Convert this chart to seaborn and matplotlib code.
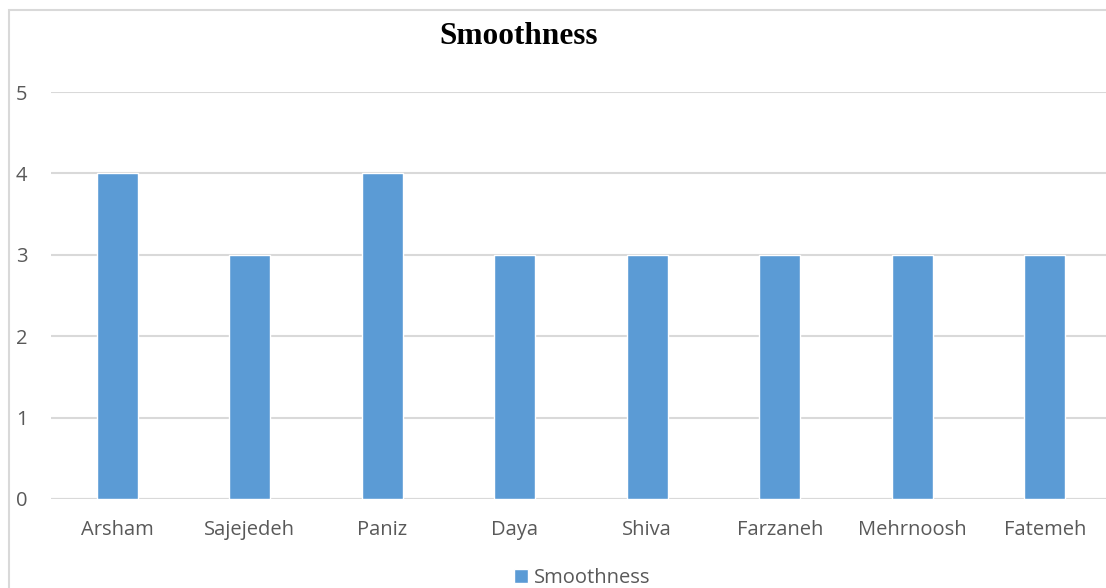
import matplotlib
matplotlib.use('Agg')
import matplotlib.pyplot as plt
import matplotlib.patches as mpatches
import seaborn as sns
import pandas as pd

# Data
names = ['Arsham', 'Sajejedeh', 'Paniz', 'Daya', 'Shiva', 'Farzaneh', 'Mehrnoosh', 'Fatemeh']
smoothness = [4, 3, 4, 3, 3, 3, 3, 3]
y_ticks = [0, 1, 2, 3, 4, 5]

bar_color = '#5b9bd5'
grid_color = '#d9d9d9'
text_color = '#595959'

sns.set_style('white')
plt.rcParams['font.family'] = ['Open Sans', 'DejaVu Sans']

W, H = 1106, 588
fig = plt.figure(figsize=(W / 100, H / 100), dpi=100)
ax = fig.add_axes([51 / W, 1 - 499 / H, (1111 - 51) / W, (499 - 92) / H])

df = pd.DataFrame({'name': names, 'value': smoothness})
sns.barplot(data=df, x='name', y='value', color=bar_color, saturation=1,
            width=0.31, ax=ax, label='Smoothness')
if ax.get_legend() is not None:
    ax.get_legend().remove()

ax.set_xlim(-0.5, len(names) - 0.5)
ax.set_ylim(0, 5)
ax.set_yticks(y_ticks)
ax.set_xlabel('')
ax.set_ylabel('')
for s in ax.spines.values():
    s.set_visible(False)
ax.yaxis.grid(True, color=grid_color, linewidth=1.5)
ax.set_axisbelow(True)
ax.axhline(0, color=grid_color, linewidth=1.5, zorder=0)
ax.tick_params(axis='x', length=0, pad=15, labelsize=14.5, labelcolor=text_color)
ax.tick_params(axis='y', length=0, pad=17, labelsize=14.5, labelcolor=text_color)

# outer chart frame (cropped on right and bottom)
fig.patches.append(mpatches.Rectangle((9 / W, -0.2), 1.5, 1 - 10 / H + 0.2,
                                      transform=fig.transFigure, fill=False,
                                      edgecolor=grid_color, linewidth=1.5))

fig.text(519 / W, 1 - 36 / H, 'Smoothness', ha='center', va='center',
         family='Liberation Serif', fontweight='bold', fontsize=22.5, color='black')

handles, labels = ax.get_legend_handles_labels()
fig.legend(handles, labels, loc='center', bbox_to_anchor=(582 / W, 1 - 578 / H),
           frameon=False, fontsize=14.5, labelcolor=text_color,
           handlelength=0.7, handleheight=0.7, handletextpad=0.3)

fig.savefig('out.png', dpi=100)
